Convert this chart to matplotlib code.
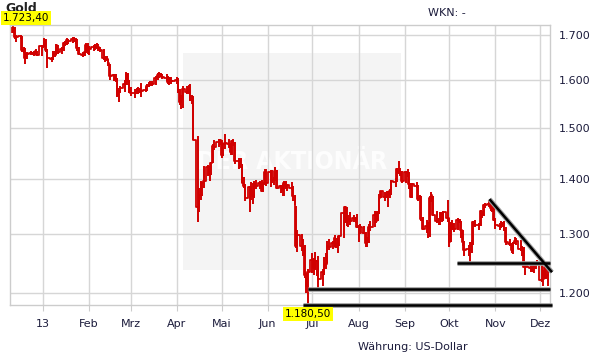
import pandas as pd
import matplotlib
matplotlib.use("Agg")
import matplotlib.pyplot as plt
from matplotlib.patches import Rectangle

# Gold in US-Dollar, daily bars Mon-Fri (one row = one week), from 2012-12-10
closes = [
    1710, 1715, 1717, 1695, 1696,
    1697, 1667, 1667, 1648, 1657,
    1660, 1660, 1658, 1663, 1656,
    1675, 1675, 1688, 1667, 1648,
    1646, 1657, 1655, 1677, 1662,
    1669, 1683, 1680, 1688, 1687,
    1692, 1692, 1686, 1670, 1658,
    1656, 1662, 1678, 1663, 1668,
    1674, 1673, 1676, 1672, 1667,
    1648, 1648, 1646, 1637, 1609,
    1610, 1603, 1568, 1576, 1582,
    1592, 1613, 1597, 1577, 1572,
    1573, 1577, 1575, 1578, 1577,
    1578, 1587, 1589, 1592, 1592,
    1604, 1611, 1614, 1613, 1606,
    1605, 1596, 1605, 1598, 1598,
    1600, 1575, 1553, 1560, 1580,
    1575, 1585, 1558, 1564, 1476,
    1348, 1369, 1369, 1393, 1395,
    1422, 1409, 1431, 1464, 1462,
    1472, 1476, 1446, 1467, 1470,
    1467, 1451, 1473, 1469, 1434,
    1434, 1425, 1393, 1387, 1364,
    1385, 1377, 1367, 1392, 1386,
    1392, 1378, 1392, 1412, 1393,
    1413, 1397, 1398, 1414, 1383,
    1386, 1379, 1392, 1387, 1388,
    1382, 1367, 1366, 1278, 1298,
    1278, 1277, 1229, 1211, 1234,
    1254, 1241, 1252, 1252, 1223,
    1235, 1246, 1248, 1278, 1277,
    1284, 1293, 1277, 1284, 1295,
    1336, 1348, 1320, 1326, 1322,
    1327, 1326, 1312, 1312, 1311,
    1302, 1283, 1286, 1311, 1312,
    1333, 1322, 1337, 1365, 1377,
    1366, 1372, 1370, 1377, 1395,
    1394, 1418, 1413, 1412, 1396,
    1412, 1411, 1390, 1366, 1391,
    1386, 1363, 1366, 1326, 1308,
    1314, 1309, 1365, 1369, 1333,
    1323, 1322, 1336, 1325, 1338,
    1327, 1286, 1317, 1317, 1309,
    1325, 1321, 1307, 1285, 1272,
    1274, 1272, 1283, 1321, 1316,
    1315, 1340, 1333, 1351, 1352,
    1354, 1346, 1346, 1324, 1316,
    1313, 1315, 1318, 1309, 1286,
    1282, 1272, 1284, 1287, 1288,
    1273, 1275, 1243, 1244, 1243,
    1241, 1240, 1241, 1248, 1250,
    1221, 1223, 1243, 1226, 1229,
]
highs = [
    1714, 1719, 1723.4, 1718, 1700,
    1700, 1697, 1672, 1670, 1662,
    1664, 1662, 1665, 1668, 1665,
    1677, 1677, 1693, 1690, 1668,
    1651, 1663, 1665, 1680, 1677,
    1674, 1685, 1686, 1693, 1691,
    1696, 1696, 1694, 1690, 1672,
    1662, 1665, 1683, 1682, 1675,
    1677, 1679, 1681, 1680, 1673,
    1668, 1652, 1653, 1645, 1636,
    1614, 1612, 1605, 1582, 1587,
    1600, 1618, 1616, 1600, 1584,
    1580, 1583, 1585, 1583, 1594,
    1584, 1591, 1596, 1597, 1598,
    1609, 1615, 1617, 1615, 1613,
    1612, 1608, 1607, 1606, 1600,
    1606, 1604, 1580, 1568, 1588,
    1587, 1590, 1592, 1568, 1565,
    1484, 1383, 1396, 1393, 1424,
    1427, 1425, 1432, 1468, 1476,
    1478, 1478, 1476, 1470, 1487,
    1477, 1470, 1476, 1477, 1471,
    1440, 1440, 1428, 1403, 1390,
    1387, 1394, 1392, 1395, 1398,
    1396, 1398, 1394, 1418, 1419,
    1417, 1416, 1404, 1423, 1417,
    1389, 1390, 1396, 1395, 1391,
    1394, 1386, 1370, 1349, 1306,
    1300, 1290, 1280, 1233, 1240,
    1267, 1258, 1268, 1255, 1261,
    1239, 1259, 1267, 1287, 1290,
    1288, 1297, 1292, 1295, 1298,
    1338, 1349, 1348, 1333, 1338,
    1334, 1330, 1335, 1316, 1317,
    1313, 1303, 1294, 1317, 1323,
    1340, 1341, 1340, 1372, 1378,
    1376, 1377, 1377, 1380, 1397,
    1401, 1420, 1434, 1420, 1414,
    1414, 1418, 1413, 1391, 1392,
    1394, 1389, 1370, 1367, 1330,
    1325, 1320, 1367, 1376, 1368,
    1340, 1327, 1339, 1338, 1341,
    1360, 1328, 1321, 1324, 1318,
    1327, 1326, 1323, 1307, 1288,
    1280, 1285, 1289, 1323, 1325,
    1319, 1342, 1341, 1353, 1355,
    1361, 1361, 1352, 1350, 1327,
    1319, 1322, 1320, 1322, 1311,
    1290, 1284, 1285, 1294, 1292,
    1289, 1279, 1276, 1249, 1248,
    1250, 1251, 1248, 1251, 1254,
    1251, 1237, 1242, 1250, 1241,
]
lows = [
    1700, 1706, 1704, 1692, 1685,
    1690, 1662, 1660, 1635, 1645,
    1654, 1656, 1652, 1655, 1652,
    1653, 1670, 1675, 1662, 1626,
    1640, 1643, 1650, 1655, 1658,
    1658, 1665, 1675, 1678, 1680,
    1682, 1685, 1680, 1665, 1655,
    1651, 1652, 1660, 1658, 1655,
    1664, 1667, 1669, 1665, 1662,
    1643, 1640, 1642, 1630, 1600,
    1597, 1595, 1564, 1554, 1573,
    1574, 1590, 1590, 1572, 1566,
    1562, 1570, 1570, 1572, 1563,
    1575, 1576, 1584, 1586, 1586,
    1590, 1600, 1604, 1606, 1602,
    1597, 1592, 1590, 1592, 1596,
    1592, 1573, 1546, 1539, 1540,
    1570, 1571, 1555, 1548, 1475,
    1321, 1338, 1360, 1367, 1383,
    1406, 1396, 1408, 1430, 1455,
    1461, 1466, 1440, 1444, 1457,
    1460, 1446, 1445, 1464, 1428,
    1418, 1420, 1392, 1382, 1359,
    1338, 1360, 1353, 1365, 1380,
    1380, 1375, 1376, 1388, 1386,
    1385, 1393, 1389, 1395, 1381,
    1373, 1367, 1367, 1380, 1377,
    1379, 1359, 1351, 1275, 1269,
    1270, 1262, 1224, 1200, 1180.5,
    1233, 1230, 1238, 1228, 1207,
    1211, 1230, 1240, 1250, 1271,
    1273, 1276, 1275, 1266, 1278,
    1293, 1318, 1314, 1311, 1316,
    1321, 1318, 1310, 1285, 1300,
    1300, 1276, 1277, 1284, 1305,
    1311, 1318, 1322, 1335, 1364,
    1358, 1365, 1348, 1365, 1370,
    1385, 1394, 1410, 1405, 1393,
    1392, 1404, 1380, 1364, 1365,
    1382, 1358, 1360, 1322, 1307,
    1302, 1293, 1294, 1356, 1331,
    1318, 1315, 1315, 1321, 1322,
    1320, 1277, 1285, 1306, 1303,
    1306, 1318, 1292, 1278, 1262,
    1261, 1251, 1266, 1280, 1311,
    1306, 1314, 1328, 1332, 1345,
    1348, 1341, 1338, 1322, 1309,
    1307, 1310, 1311, 1304, 1281,
    1279, 1267, 1264, 1282, 1281,
    1270, 1262, 1242, 1230, 1242,
    1234, 1235, 1232, 1239, 1247,
    1217, 1211, 1222, 1222, 1211,
]
first_day = "2012-12-10"

month_ticks = ["2013-01-01", "2013-02-01", "2013-03-01", "2013-04-01",
               "2013-05-01", "2013-06-01", "2013-07-01", "2013-08-01",
               "2013-09-01", "2013-10-01", "2013-11-01", "2013-12-01"]
month_labels = ["13", "Feb", "Mrz", "Apr", "Mai", "Jun", "Jul", "Aug",
                "Sep", "Okt", "Nov", "Dez"]
y_ticks = [1200, 1300, 1400, 1500, 1600, 1700]
y_labels = ["1.200", "1.300", "1.400", "1.500", "1.600", "1.700"]

# support / resistance lines drawn into the chart: (from, value, to, value)
trend_lines = [
    ("2013-06-25", 1180.5, "2013-12-09", 1180.5),
    ("2013-06-28", 1207, "2013-12-08", 1207),
    ("2013-10-06", 1250, "2013-12-08", 1250),
    ("2013-10-28", 1362, "2013-12-09", 1234),
]

days = pd.bdate_range(first_day, periods=len(closes))
red = "#d00000"
txt = "#1c1c3c"
grid_c = "#d6d6d6"


def de_fmt(v):
    return f"{v:,.2f}".replace(",", "X").replace(".", ",").replace("X", ".")


fig = plt.figure(figsize=(6.11, 3.64), dpi=100)
ax = fig.add_axes([10 / 611, 1 - 305 / 364, 540 / 611, 280 / 364])
ax.set_yscale("log")
ax.set_ylim(min(lows), max(highs))
ax.set_xlim(pd.Timestamp("2012-12-09 20:00"), pd.Timestamp("2013-12-07 16:00"))

# watermark box
ax.add_patch(Rectangle((0.320, 0.125), 0.404, 0.775, transform=ax.transAxes,
                       facecolor="#f4f4f4", edgecolor="none", zorder=0.2))
ax.text(0.522, 0.51, "DER AKTIONÄR", transform=ax.transAxes, ha="center",
        va="center", fontsize=18, fontweight="bold", color="#fdfdfd",
        fontstretch="condensed", zorder=0.3)

# grid
for t in month_ticks:
    ax.axvline(pd.Timestamp(t), color=grid_c, lw=1, zorder=0.5)
for v in y_ticks:
    ax.axhline(v, color=grid_c, lw=1, zorder=0.5)

# price bars
ax.vlines(days, lows, highs, color=red, lw=1.4, zorder=2)
ax.plot(days, closes, color=red, lw=1.3, drawstyle="steps-mid", zorder=2)

# trend lines with a soft shadow
for d0, v0, d1, v1 in trend_lines:
    xs = [pd.Timestamp(d0), pd.Timestamp(d1)]
    ax.plot(xs, [v0, v1], color="#a0a0a0", lw=3.4, solid_capstyle="butt",
            zorder=3, clip_on=False)
    ax.plot(xs, [v0, v1], color="black", lw=1.8, solid_capstyle="butt",
            zorder=4, clip_on=False)

# axes styling
for s in ax.spines.values():
    s.set_color("#cccccc")
    s.set_linewidth(1)
ax.set_xticks([pd.Timestamp(t) for t in month_ticks])
ax.set_xticklabels(month_labels)
ax.tick_params(axis="x", length=4, color="#cccccc", labelsize=8,
               labelcolor=txt, pad=6)
ax.yaxis.tick_right()
ax.set_yticks(y_ticks)
ax.set_yticklabels(y_labels)
ax.yaxis.set_minor_locator(matplotlib.ticker.NullLocator())
ax.tick_params(axis="y", length=0, labelsize=8, labelcolor=txt, pad=6)

# max / min labels
i_min = lows.index(min(lows))
ax.annotate(de_fmt(min(lows)), xy=(days[i_min], min(lows)),
            xytext=(0, -6.3), textcoords="offset points", ha="center",
            va="center", fontsize=7.5, color="black", annotation_clip=False,
            bbox=dict(boxstyle="square,pad=0.2", fc="#ffff00", ec="none"),
            zorder=10)

fig.text(5 / 611, 1 - 9 / 364, "Gold", fontsize=9, fontweight="bold",
         color="#222222", va="center", ha="left")
fig.text(3 / 611, 1 - 18 / 364, de_fmt(max(highs)), fontsize=7.5,
         color="black", va="center", ha="left",
         bbox=dict(boxstyle="square,pad=0.2", fc="#ffff00", ec="none"))
fig.text(428 / 611, 1 - 13 / 364, "WKN: -", fontsize=8, color=txt,
         va="center", ha="left")
fig.text(358 / 611, 1 - 347 / 364, "Währung: US-Dollar", fontsize=8,
         color=txt, va="center", ha="left")

fig.savefig("out.png", dpi=100)
